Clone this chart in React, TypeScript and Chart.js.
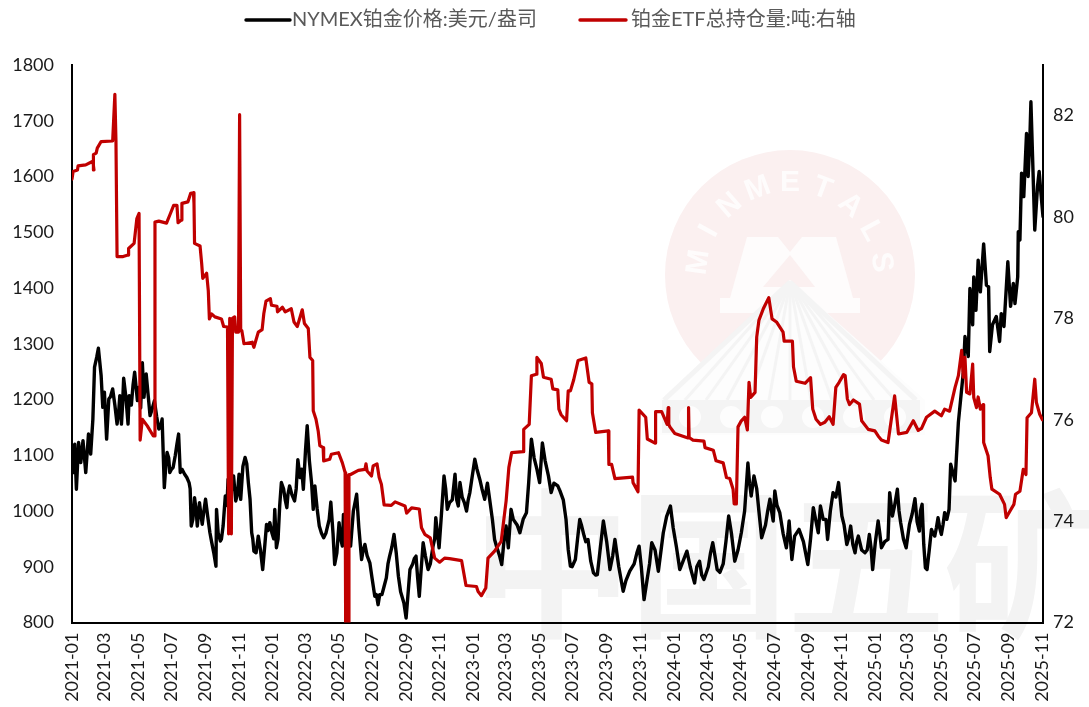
import React, { useEffect, useRef } from "react";
import { Chart, registerables } from "chart.js";

Chart.register(...registerables);

const tickLabels = ["2021-01","2021-03","2021-05","2021-07","2021-09","2021-11","2022-01","2022-03","2022-05","2022-07","2022-09","2022-11","2023-01","2023-03","2023-05","2023-07","2023-09","2023-11","2024-01","2024-03","2024-05","2024-07","2024-09","2024-11","2025-01","2025-03","2025-05","2025-07","2025-09","2025-11"];
const leftTicks = [800,900,1000,1100,1200,1300,1400,1500,1600,1700,1800];
const rightTicks = [72,74,76,78,80,82];

const priceName = "NYMEX铂金价格:美元/盎司";
const etfName = "铂金ETF总持仓量:吨:右轴";

// days since 2021-01-01
const priceDays = [0,2,5,8,12,16,20,25,30,34,38,41,45,48,53,56,59,63,67,74,82,87,90,94,102,104,114,119,128,131,135,142,150,158,164,168,173,178,184,194,197,205,213,217,223,228,232,237,243,251,262,263,270,275,279,284,290,294,298,304,307,315,324,327,331,339,347,354,360,369,372,381,391,396,405,411,421,428,439,442,450,458,471,478,486,492,494,507,518,527,533,542,551,557,568,578,586,594,608,615,626,632,639,648,657,662,668,677,683,697,703,706,718,724,733,742,751,756,760,769,782,790,794,799,815,827,836,851,856,867,872,884,888,899,903,907,916,924,932,939,949,956,967,979,988,1003,1015,1032,1041,1055,1067,1076,1089,1106,1119,1133,1142,1150,1166,1174,1185,1195,1206,1218,1230,1236,1241,1255,1270,1276,1279,1288,1300,1305,1310,1323,1339,1349,1358,1362,1375,1385,1395,1401,1410,1417,1425,1431,1443,1451,1457,1467,1473,1485,1488,1493,1502,1508,1518,1524,1534,1542,1547,1553,1556,1564,1570,1576,1582,1588,1596,1599,1607,1613,1622,1625,1631,1634,1639,1641,1645,1649,1653,1659,1664,1668,1670,1675,1682,1688,1691,1696,1703,1708,1713,1716,1721,1722,1725,1728,1732,1737,1740,1743,1745,1748,1752,1757,1760,1763,1767];
const priceValues = [1102,1069,1120,1039,1123,1087,1126,1069,1138,1102,1165,1258,1276,1292,1243,1186,1213,1129,1201,1219,1156,1207,1156,1238,1156,1207,1249,1198,1266,1204,1246,1171,1198,1147,1165,1042,1105,1069,1078,1138,1069,1066,1051,973,1024,973,1015,976,1021,961,901,1003,946,973,1027,1057,1036,1063,1018,1066,1021,1096,1021,961,928,955,895,976,979,1003,934,1051,1006,1045,1018,1092,1039,1153,1003,1045,973,952,1016,904,979,937,994,937,1030,913,940,907,847,832,865,919,958,883,808,895,919,847,943,895,937,988,934,1063,1003,1066,1009,1051,1000,1033,1093,1057,1021,1050,1021,949,904,973,934,1003,961,997,1129,1051,1122,1063,1033,1045,1036,985,931,901,913,985,955,949,889,886,982,895,949,856,892,937,841,943,892,961,1009,895,928,871,910,877,943,895,905,991,910,961,1086,1027,1063,952,1021,982,1036,997,934,982,913,967,904,1006,961,1009,949,1033,1051,991,940,973,925,955,925,958,895,982,934,949,1033,991,1039,979,934,976,1022,964,1012,898,895,967,955,988,958,997,1003,1084,1054,1159,1249,1313,1277,1399,1334,1420,1360,1450,1393,1479,1405,1402,1286,1334,1349,1304,1354,1331,1447,1367,1408,1372,1420,1501,1486,1606,1564,1677,1600,1665,1734,1636,1504,1582,1609,1573,1528];

// further readings between the main ones
const priceExtraDays = [70,78,85,92,98,108,111,122,125,145,154,161,171,176,181,188,191,200,209,215,220,226,235,240,247,254,258,266,272,282,287,296,301,311,318,321,329,335,343,351,357,364,367,375,378,385,388,393,400,408,415,418,425,432,436,446,454,462,468,475,482,489,498,503,512,522,530,537,546,554,560,564,572,575,582,590,598,604,611,620,623,629,635,643,652,660,665,672,680,687,692,700,710,714,721,728,737,746,755,765,773,778,786,803,810,821,831,841,846,861,877,894,910,920,927,935,944,953,961,973,984,995,1008,1023,1028,1036,1047,1051,1061,1072,1082,1094,1100,1112,1125,1129,1137,1146,1158,1162,1170,1179,1190,1200,1212,1224,1233,1246,1250,1262,1266,1273,1283,1294,1303,1315,1331,1344,1367,1372,1380,1390,1405,1413,1421,1428,1437,1447,1454,1462,1470,1479,1497,1505,1513,1521,1529,1538,1544,1550,1560,1567,1573,1579,1585,1592];
const priceExtraValues = [1205,1190,1178,1190,1205,1190,1225,1222,1185,1180,1170,1150,1085,1095,1075,1100,1120,1075,1060,1040,985,1000,990,1000,990,945,925,960,950,1010,1040,1040,1030,1080,1085,1050,950,925,930,940,965,960,950,950,1010,1040,1020,1030,1030,1040,1060,1075,1110,1090,1050,1005,960,960,985,960,925,950,975,950,1000,970,930,920,880,850,850,850,880,905,935,925,855,835,845,905,915,880,890,920,905,950,960,990,1040,1015,1020,1020,1025,1015,1020,1060,1075,1040,1045,985,935,920,945,985,975,985,1050,1095,1075,1090,1050,1020,900,950,975,945,910,885,930,945,920,900,875,905,925,900,880,905,930,930,990,970,935,910,900,885,900,885,900,925,920,890,945,960,930,1000,1050,1040,1000,975,1000,1000,1010,960,960,955,945,950,985,985,1000,1025,975,950,940,945,930,930,935,945,960,945,1010,1000,950,955,995,980,1000,940,930,960,970,970,975,985];

const etfDays = [0,2,10,11,25,38,40,39,44,46,53,74,78,80,82,93,102,103,113,118,122,124,125,128,137,148,150,151,158,172,178,185,191,193,199,200,211,216,221,222,223,233,236,238,245,248,250,254,260,272,276,283,285,287,290,292,296,298,303,305,307,309,313,328,331,339,346,349,353,361,363,373,374,383,388,399,404,410,419,423,430,433,438,439,444,448,451,457,458,469,472,485,492,497,498,502,503,504,507,521,533,535,537,545,548,555,559,563,568,581,588,606,609,618,632,636,642,652,660,669,678,687,709,717,736,739,745,753,757,769,781,790,795,800,821,822,832,836,845,846,854,858,872,875,884,886,890,900,903,907,913,921,935,941,946,947,953,976,977,982,988,1020,1021,1030,1032,1044,1047,1061,1062,1073,1083,1085,1086,1088,1097,1121,1122,1123,1130,1150,1152,1167,1172,1185,1191,1197,1203,1205,1209,1212,1218,1224,1229,1232,1235,1243,1246,1250,1258,1268,1274,1282,1294,1296,1311,1313,1318,1334,1344,1348,1354,1362,1370,1378,1385,1390,1396,1404,1407,1411,1415,1422,1433,1437,1449,1461,1467,1473,1485,1488,1497,1504,1519,1531,1540,1546,1555,1570,1582,1588,1597,1607,1613,1619,1622,1625,1628,1634,1639,1641,1646,1649,1653,1658,1659,1667,1671,1674,1688,1697,1700,1707,1714,1717,1725,1731,1736,1738,1746,1752,1755,1761,1766];
const etfValues = [80.75,80.9,80.93,81.01,81.03,81.1,80.93,81.23,81.26,81.36,81.49,81.5,82.42,81.5,79.22,79.22,79.25,79.38,79.48,79.97,80.07,75.6,75.6,76.01,75.88,75.68,75.68,79.9,79.92,79.88,80.04,80.23,80.23,79.89,79.94,80.27,80.3,80.47,80.48,80.27,79.48,79.43,79.08,78.79,78.89,78.55,77.99,78.09,78.03,77.99,77.84,77.83,73.75,78.0,73.75,78.0,78.03,77.73,77.73,82.02,77.76,77.76,77.5,77.53,77.43,77.73,77.78,78.09,78.34,78.39,78.26,78.24,78.13,78.22,78.13,78.19,77.93,77.84,78.17,77.9,77.8,77.23,77.17,76.18,76.01,75.78,75.49,75.45,75.19,75.22,75.32,75.35,75.15,74.96,71.9,74.9,71.9,74.92,74.92,75.0,75.02,75.13,74.99,74.89,75.09,75.13,74.86,74.73,74.32,74.31,74.38,74.3,74.16,74.26,74.24,73.87,73.74,73.67,73.27,73.19,73.27,73.26,73.22,72.73,72.71,72.61,72.53,72.68,73.27,73.41,73.6,74.4,75.06,75.35,75.37,75.81,75.91,76.87,76.9,77.23,77.11,76.84,76.8,76.61,76.59,76.21,76.1,75.98,76.57,76.57,76.79,77.17,77.22,76.74,76.71,76.14,75.75,75.78,75.12,75.12,74.84,74.87,74.76,74.58,76.19,76.05,75.62,75.54,76.16,76.16,75.91,76.24,75.91,75.86,75.73,75.64,76.24,75.65,75.6,75.58,75.45,75.4,75.19,75.15,74.86,74.84,74.63,74.34,74.34,75.86,75.98,76.05,75.8,76.74,76.44,76.54,77.63,77.96,78.19,78.41,77.99,77.93,77.73,77.55,77.55,77.04,76.76,76.72,76.83,76.21,76.01,75.91,75.95,76.06,75.91,76.64,76.74,76.89,76.87,76.41,76.3,76.39,76.31,75.98,75.81,75.78,75.68,75.6,75.55,75.78,76.47,75.72,75.75,75.98,75.79,75.83,76.05,76.17,76.08,76.21,76.17,76.64,76.87,77.37,76.84,77.23,76.54,76.51,77.1,76.44,76.24,76.45,76.21,76.3,75.55,75.29,74.86,74.63,74.53,74.33,74.07,74.2,74.33,74.53,74.59,75.02,74.92,76.04,76.14,76.8,76.34,76.11,76.0];

const dayOf = (label: string) => {
  const [y, m] = label.split("-").map(Number);
  return (Date.UTC(y, m - 1, 1) - Date.UTC(2021, 0, 1)) / 86400000;
};
const tickDays = tickLabels.map(dayOf);
const pairs = (xs: number[], ys: number[]) => xs.map((x, i) => ({ x, y: ys[i] }));
const pricePoints = [...pairs(priceDays, priceValues), ...pairs(priceExtraDays, priceExtraValues)].sort((a, b) => a.x - b.x);

const FONT = 'Lato, "Noto Sans CJK SC"';

const legendPlugin = {
  id: "topLegend",
  afterDraw(chart: any) {
    const c = chart.ctx;
    c.save();
    c.font = `20px ${FONT}`;
    c.textAlign = "left";
    c.textBaseline = "middle";
    c.lineCap = "round";
    const row = [
      { name: chart.data.datasets[0].label, color: chart.data.datasets[0].borderColor, from: 246, to: 290, text: 292 },
      { name: chart.data.datasets[1].label, color: chart.data.datasets[1].borderColor, from: 580, to: 626, text: 631 },
    ];
    row.forEach((r) => {
      c.strokeStyle = r.color;
      c.lineWidth = 3.4;
      c.beginPath();
      c.moveTo(r.from, 20);
      c.lineTo(r.to, 20);
      c.stroke();
      c.fillStyle = "#595959";
      c.fillText(r.name, r.text, 20);
    });
    c.restore();
  },
};

const watermark = {
  id: "watermark",
  beforeDraw(chart: any) {
    const c = chart.ctx;
    c.save();
    c.fillStyle = "#F3F3F3";
    c.font = 'bold 160px "Noto Sans CJK SC"';
    c.textAlign = "center";
    c.textBaseline = "alphabetic";
    ["中", "国", "五", "矿"].forEach((t, i) => c.fillText(t, 552 + i * 157, 625));
    const cx = 790, cy = 275;
    c.fillStyle = "#FBF0F0";
    c.beginPath();
    c.arc(cx, cy, 125, 0, Math.PI * 2);
    c.fill();
    c.fillStyle = "#FEFCFC";
    c.font = 'bold 30px "Liberation Sans"';
    c.textBaseline = "middle";
    "MINMETALS".split("").forEach((ch, i) => {
      const a = ((i - 4) * 20.5 * Math.PI) / 180;
      c.save();
      c.translate(cx + Math.sin(a) * 92, cy - Math.cos(a) * 92);
      c.rotate(a);
      c.fillText(ch, 0, 0);
      c.restore();
    });
    c.beginPath();
    c.moveTo(747, 237); c.lineTo(778, 237); c.lineTo(790, 252); c.lineTo(802, 237); c.lineTo(836, 237);
    c.lineTo(853, 298); c.lineTo(860, 298); c.lineTo(860, 313); c.lineTo(720, 313); c.lineTo(720, 298); c.lineTo(730, 298);
    c.closePath();
    c.fill();
    c.fillStyle = "#FBF0F0";
    c.beginPath();
    c.moveTo(790, 255); c.lineTo(815, 287); c.lineTo(763, 287);
    c.closePath();
    c.fill();
    c.fillStyle = "#FDFDFD";
    c.beginPath();
    c.moveTo(790, 280); c.lineTo(925, 400); c.lineTo(925, 435); c.lineTo(660, 435); c.lineTo(660, 400);
    c.closePath();
    c.fill();
    c.strokeStyle = "#F4F4F4";
    for (let i = -6; i <= 6; i++) {
      c.lineWidth = i === -6 || i === 6 ? 5 : 3;
      c.beginPath();
      c.moveTo(790, 282);
      c.lineTo(790 + i * 21, 400);
      c.stroke();
    }
    c.fillStyle = "#F4F4F4";
    c.fillRect(662, 400, 258, 33);
    c.fillStyle = "#FDFDFD";
    for (let i = 0; i < 6; i++) {
      c.beginPath();
      c.arc(690 + i * 41, 417, 11, 0, Math.PI * 2);
      c.fill();
    }
    c.restore();
  },
};

export default function App() {
  const ref = useRef<HTMLCanvasElement>(null);
  useEffect(() => {
    const chart = new Chart(ref.current!, {
      type: "line",
      plugins: [watermark, legendPlugin],
      data: {
        datasets: [
          { label: priceName, data: pricePoints, yAxisID: "y", borderColor: "#000000", backgroundColor: "#000000", borderWidth: 3.4, pointRadius: 0, tension: 0, order: 1, borderCapStyle: "round", borderJoinStyle: "round" },
          { label: etfName, data: pairs(etfDays, etfValues), yAxisID: "y2", borderColor: "#C00000", backgroundColor: "#C00000", borderWidth: 3.2, pointRadius: 0, tension: 0, order: 0, borderCapStyle: "round", borderJoinStyle: "round" },
        ],
      },
      options: {
        responsive: false,
        animation: false,
        layout: { padding: { left: 0, top: 65, right: 0, bottom: 0 } },
        plugins: { tooltip: { enabled: false }, legend: { display: false } },
        scales: {
          x: {
            type: "linear",
            min: 0,
            max: 1767,
            grid: { display: false, tickLength: 8, tickColor: "#000", tickWidth: 2 } as any,
            border: { color: "#000", width: 2 },
            afterBuildTicks: (s: any) => { s.ticks = tickDays.map((value) => ({ value })); },
            afterFit: (s: any) => { s.height = 84.5; },
            ticks: {
              color: "#1a1a1a",
              font: { family: FONT, size: 18 },
              minRotation: 90,
              maxRotation: 90,
              autoSkip: false,
              padding: 2,
              callback: (v: any) => tickLabels[tickDays.indexOf(Number(v))] ?? "",
            },
          },
          y: {
            position: "left",
            min: 800,
            max: 1800,
            grid: { display: false, tickLength: 8, tickColor: "#000", tickWidth: 2 } as any,
            border: { color: "#000", width: 2 },
            afterBuildTicks: (s: any) => { s.ticks = leftTicks.map((value) => ({ value })); },
            afterFit: (s: any) => { s.width = 72; },
            ticks: { color: "#1a1a1a", font: { family: FONT, size: 18 }, padding: 10, callback: (v: any) => String(v) },
          },
          y2: {
            position: "right",
            min: 72,
            max: 83,
            grid: { display: false, tickLength: 8, tickColor: "#000", tickWidth: 2 } as any,
            border: { color: "#000", width: 2 },
            afterBuildTicks: (s: any) => { s.ticks = rightTicks.map((value) => ({ value })); },
            afterFit: (s: any) => { s.width = 46; },
            ticks: { color: "#1a1a1a", font: { family: FONT, size: 18 }, padding: 2, callback: (v: any) => String(v) },
          },
        },
      } as any,
    });
    return () => chart.destroy();
  }, []);
  return (
    <div style={{ position: "absolute", left: 0, top: 0, width: 1089, height: 707, background: "#fff" }}>
      <canvas ref={ref} width={1089} height={707} style={{ display: "block" }} />
    </div>
  );
}
